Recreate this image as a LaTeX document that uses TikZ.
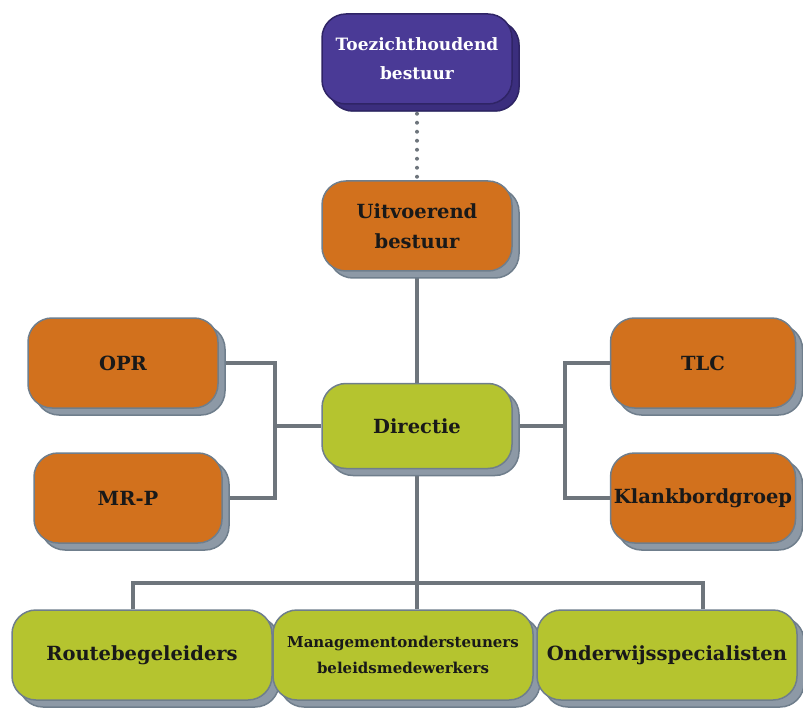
\documentclass[tikz,border=0pt]{standalone}
\usepackage{fontspec}
\setmainfont{DejaVu Serif}
\usepackage{tikz}
\usetikzlibrary{shadows,backgrounds}
\definecolor{paars}{HTML}{4A3A96}
\definecolor{paarsrand}{HTML}{2F2466}
\definecolor{paarsschaduw}{HTML}{3B2E7E}
\definecolor{oranje}{HTML}{D2711D}
\definecolor{groen}{HTML}{B5C42F}
\definecolor{rand}{HTML}{6F7E8C}
\definecolor{schaduw}{HTML}{8D99A6}
\definecolor{lijn}{HTML}{6E757C}
\tikzset{
  blok/.style={rectangle, rounded corners=24pt, draw=rand, line width=1.5pt,
    minimum width=190pt, minimum height=90pt, align=center,
    font=\fontsize{19.5}{30}\selectfont\bfseries, text=black!90,
    drop shadow={shadow xshift=7pt, shadow yshift=-7pt, fill=schaduw, draw=rand, opacity=1}},
  oranjeblok/.style={blok, fill=oranje},
  groenblok/.style={blok, fill=groen},
  paarsblok/.style={blok, fill=paars, draw=paarsrand, text=white,
    font=\fontsize{17}{29}\selectfont\bfseries,
    drop shadow={shadow xshift=7pt, shadow yshift=-7pt, fill=paarsschaduw, draw=paarsrand, opacity=1}},
  verbinding/.style={draw=lijn, line width=4pt},
}
\begin{document}
\begin{tikzpicture}[x=1pt,y=1pt]
\useasboundingbox (0,0) rectangle (803,-711);
\node[paarsblok] (toezicht) at (417,-59) {Toezichthoudend\\bestuur};
\node[oranjeblok] (uitvoerend) at (417,-226) {Uitvoerend\\bestuur};
\node[groenblok, minimum height=85pt] (directie) at (417,-426) {Directie};
\node[oranjeblok] (opr) at (123,-363) {OPR};
\node[oranjeblok, minimum width=188pt] (mrp) at (128,-498) {MR-P};
\node[oranjeblok, minimum width=185pt] (tlc) at (703,-363) {TLC};
\node[oranjeblok, minimum width=185pt] (klank) at (703,-498) {Klankbordgroep};
\node[groenblok, minimum width=260pt] (route) at (142,-655) {Routebegeleiders};
\node[groenblok, minimum width=260pt, font=\fontsize{15}{26}\selectfont\bfseries] (mgmt) at (403,-655) {Managementondersteuners\\beleidsmedewerkers};
\node[groenblok, minimum width=260pt] (onderwijs) at (667,-655) {Onderwijsspecialisten};
\coordinate (links) at (275,-426);
\coordinate (rechts) at (565,-426);
\coordinate (onder) at (417,-583);
\coordinate (onderlinks) at (133,-583);
\coordinate (onderrechts) at (703,-583);
\begin{scope}[on background layer]
\draw[lijn, line width=4pt, line cap=round, dash pattern=on 0pt off 9pt] (toezicht.south) -- (uitvoerend.north);
\draw[verbinding] (uitvoerend) -- (directie);
\draw[verbinding] (opr) -| (links) |- (mrp);
\draw[verbinding] (links) -- (directie);
\draw[verbinding] (tlc) -| (rechts) |- (klank);
\draw[verbinding] (rechts) -- (directie);
\draw[verbinding] (directie) -- (onder);
\draw[verbinding] (onderlinks |- route.north) -- (onderlinks) -- (onderrechts) -- (onderrechts |- onderwijs.north);
\draw[verbinding] (onder) -- (onder |- mgmt.north);
\end{scope}
\end{tikzpicture}
\end{document}
